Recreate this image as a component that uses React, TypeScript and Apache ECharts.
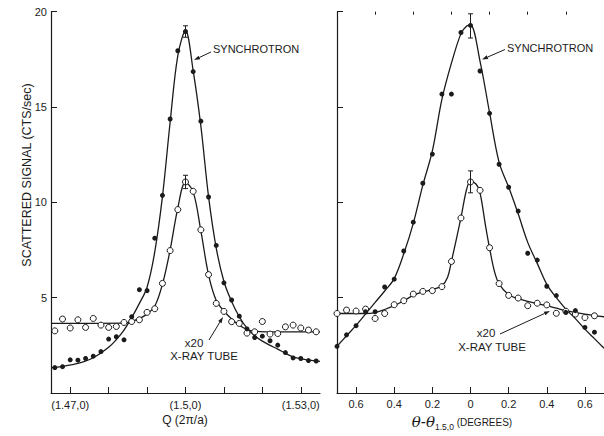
import React, { useEffect, useRef } from "react";
import * as echarts from "echarts";

// ---------- Left panel: Q scan ----------
const qPoints = [
  1.466, 1.468, 1.47, 1.472, 1.474, 1.476, 1.478, 1.48, 1.482, 1.484, 1.486, 1.488,
  1.49, 1.492, 1.494, 1.496, 1.498, 1.5, 1.502, 1.504, 1.506, 1.508, 1.51, 1.512,
  1.514, 1.516, 1.518, 1.52, 1.522, 1.524, 1.526, 1.528, 1.53, 1.532, 1.534,
];
const qSync = [
  1.33, 1.38, 1.74, 1.72, 1.81, 1.93, 2.17, 2.83, 2.95, 2.79, 4.0, 5.42,
  5.37, 8.12, 10.37, 14.37, 17.95, 18.96, 16.86, 14.26, 10.28, 7.74, 5.78, 4.88,
  4.03, 3.36, 2.91, 2.98, 2.74, 2.51, 2.12, 1.84, 1.81, 1.7, 1.68,
];
const qTube = [
  3.26, 3.88, 3.41, 3.84, 3.44, 3.91, 3.56, 3.44, 3.49, 3.7, 3.75, 3.84,
  4.23, 4.42, 5.75, 7.47, 9.62, 11.07, 10.58, 8.56, 6.21, 4.7, 4.28, 3.74,
  3.65, 3.14, 3.21, 3.75, 3.09, 3.12, 3.47, 3.56, 3.41, 3.3, 3.21,
];
const qSyncFitX = [
  1.465, 1.468, 1.472, 1.476, 1.48, 1.482, 1.484, 1.486, 1.488, 1.49, 1.492, 1.494,
  1.496, 1.498, 1.5, 1.502, 1.504, 1.506, 1.508, 1.51, 1.512, 1.514, 1.516, 1.518,
  1.52, 1.522, 1.524, 1.526, 1.528, 1.53, 1.532, 1.535,
];
const qSyncFitY = [
  1.33, 1.4, 1.55, 1.85, 2.4, 2.8, 3.3, 3.95, 4.7, 5.55, 7.4, 10.3,
  14.2, 17.7, 19.0, 16.9, 14.0, 10.3, 7.6, 5.85, 4.8, 4.0, 3.4, 3.0,
  2.72, 2.5, 2.3, 2.08, 1.9, 1.8, 1.72, 1.66,
];
const qTubeFitX = [
  1.465, 1.484, 1.486, 1.488, 1.49, 1.492, 1.494, 1.496, 1.498, 1.5, 1.502, 1.504,
  1.506, 1.508, 1.51, 1.512, 1.514, 1.516, 1.518, 1.521, 1.535,
];
const qTubeFitY = [
  3.65, 3.66, 3.76, 3.9, 4.15, 4.55, 5.7, 7.5, 9.7, 11.05, 10.55, 8.5,
  6.2, 4.85, 4.3, 3.88, 3.55, 3.33, 3.24, 3.21, 3.21,
];
const qErrorBars = [
  [1.5, 18.66, 19.26],
  [1.5, 10.72, 11.42],
];
const qTicks = [1.47, 1.48, 1.49, 1.5, 1.51, 1.52, 1.53];
const qLabels = [1.47, 1.5, 1.53];

// ---------- Right panel: theta scan ----------
const thPoints = [
  -0.7, -0.65, -0.6, -0.55, -0.5, -0.45, -0.4, -0.35, -0.3, -0.25, -0.2, -0.15, -0.1, -0.05,
  0, 0.05, 0.1, 0.15, 0.2, 0.25, 0.3, 0.35, 0.4, 0.45, 0.5, 0.55, 0.6, 0.65,
];
const thSync = [
  2.45, 3.05, 3.53, 4.26, 4.26, 5.56, 5.97, 7.45, 8.96, 11.0, 12.53, 15.68, 15.68, 18.91,
  19.28, 16.89, 14.67, 12.0, 10.79, 9.54, 7.33, 6.97, 5.6, 5.11, 4.23, 4.32, 3.44, 3.19,
];
const thTube = [
  4.17, 4.35, 4.3, 4.4, 3.91, 4.17, 4.63, 4.84, 5.19, 5.33, 5.37, 5.58, 6.9, 9.18,
  11.07, 10.63, 7.62, 5.74, 5.12, 4.98, 4.58, 4.71, 4.62, 4.18, 4.29, 4.14, 3.96, 4.05,
];
const thSyncFitX = [
  -0.7, -0.65, -0.6, -0.55, -0.5, -0.45, -0.4, -0.35, -0.3, -0.25, -0.2, -0.15, -0.1, -0.05,
  -0.02, 0, 0.05, 0.1, 0.15, 0.2, 0.25, 0.3, 0.35, 0.4, 0.45, 0.5, 0.55, 0.6, 0.65, 0.7,
];
const thSyncFitY = [
  2.45, 3.0, 3.55, 4.15, 4.75, 5.35, 6.0, 7.3, 8.9, 10.9, 12.7, 15.4, 17.3, 18.85,
  19.25, 19.3, 17.4, 14.7, 12.1, 10.8, 9.4, 7.9, 6.8, 5.7, 5.0, 4.4, 3.9, 3.35, 2.85, 2.35,
];
const thTubeFitX = [
  -0.7, -0.55, -0.5, -0.45, -0.4, -0.35, -0.3, -0.25, -0.2, -0.15, -0.12, -0.1, -0.05, -0.02,
  0, 0.03, 0.05, 0.08, 0.1, 0.125, 0.15, 0.2, 0.25, 0.3, 0.35, 0.4, 0.45, 0.5, 0.6, 0.7,
];
const thTubeFitY = [
  4.17, 4.17, 4.22, 4.38, 4.58, 4.84, 5.12, 5.3, 5.42, 5.62, 6.07, 6.9, 9.2, 10.7,
  11.1, 10.95, 10.5, 8.7, 7.6, 6.4, 5.72, 5.15, 4.95, 4.8, 4.68, 4.58, 4.45, 4.32, 4.14, 4.0,
];
const thErrorBars = [
  [0, 18.62, 19.89],
  [0, 10.5, 11.65],
];
const thMajorTicks = [-0.6, -0.4, -0.2, 0, 0.2, 0.4, 0.6];
const thMinorTicks = [-0.5, -0.3, -0.1, 0.1, 0.3, 0.5];
const yTicks = [5, 10, 15, 20];

const INK = "#1b1b1b";
const FONT = "Liberation Sans";

const zip = (xs: number[], ys: number[]) => xs.map((x, i) => [x, ys[i]]);

function errorBarItem(_params: any, api: any) {
  const x = api.value(0);
  const lo = api.coord([x, api.value(1)]);
  const hi = api.coord([x, api.value(2)]);
  const cap = 2.5;
  const st = { stroke: INK, lineWidth: 1 };
  return {
    type: "group",
    children: [
      { type: "line", shape: { x1: lo[0], y1: lo[1], x2: hi[0], y2: hi[1] }, style: st },
      { type: "line", shape: { x1: hi[0] - cap, y1: hi[1], x2: hi[0] + cap, y2: hi[1] }, style: st },
      { type: "line", shape: { x1: lo[0] - cap, y1: lo[1], x2: lo[0] + cap, y2: lo[1] }, style: st },
    ],
  };
}

function arrow(x1: number, y1: number, x2: number, y2: number) {
  const dx = x2 - x1, dy = y2 - y1;
  const len = Math.sqrt(dx * dx + dy * dy);
  const ux = dx / len, uy = dy / len;
  const px = -uy, py = ux;
  const hl = 6, hw = 2;
  const bx = x2 - ux * hl, by = y2 - uy * hl;
  return [
    { type: "line", shape: { x1, y1, x2: bx, y2: by }, style: { stroke: INK, lineWidth: 1 } },
    {
      type: "polygon",
      shape: { points: [[x2, y2], [bx + px * hw, by + py * hw], [bx - px * hw, by - py * hw]] },
      style: { fill: INK },
    },
  ];
}

const axisBase = (gridIndex: number) => ({
  gridIndex,
  type: "value" as const,
  axisLine: { show: true, onZero: false, lineStyle: { color: INK, width: 1.2 } },
  splitLine: { show: false },
});

export default function App() {
  const ref = useRef<HTMLDivElement>(null);
  useEffect(() => {
    if (!ref.current) return;
    const chart = echarts.init(ref.current, null, { renderer: "svg" });
    const lineSeries = (data: number[][], xi: number, yi: number) => ({
      type: "line",
      xAxisIndex: xi,
      yAxisIndex: yi,
      data,
      smooth: 0.35,
      showSymbol: false,
      symbol: "none",
      lineStyle: { color: INK, width: 1.3 },
      silent: true,
      z: 2,
    });
    const filled = (data: number[][], xi: number, yi: number) => ({
      type: "scatter",
      xAxisIndex: xi,
      yAxisIndex: yi,
      data,
      symbol: "circle",
      symbolSize: 5,
      itemStyle: { color: INK, opacity: 1 },
      z: 4,
    });
    const open = (data: number[][], xi: number, yi: number) => ({
      type: "scatter",
      xAxisIndex: xi,
      yAxisIndex: yi,
      data,
      symbol: "circle",
      symbolSize: 6,
      itemStyle: { color: "#ffffff", borderColor: INK, borderWidth: 1, opacity: 1 },
      z: 3,
    });
    const errSeries = (data: number[][], xi: number, yi: number) => ({
      type: "custom",
      xAxisIndex: xi,
      yAxisIndex: yi,
      data,
      renderItem: errorBarItem,
      encode: { x: 0, y: [1, 2] },
      z: 5,
    });

    const textStyle = { fill: INK, fontFamily: FONT };

    chart.setOption({
      animation: false,
      backgroundColor: "#ffffff",
      grid: [
        { left: 51, top: 11.7, width: 269, height: 381.3 },
        { left: 337, top: 11.7, width: 269, height: 381.3 },
      ],
      xAxis: [
        {
          ...axisBase(0),
          min: 1.465,
          max: 1.535,
          axisTick: { show: true, inside: true, length: 6, customValues: qTicks, lineStyle: { color: INK } },
          axisLabel: {
            customValues: qLabels,
            formatter: (v: number) => "(" + String(Number(v.toFixed(3))) + ",0)",
            color: INK,
            fontFamily: FONT,
            fontSize: 11,
            margin: 6,
          },
        },
        {
          ...axisBase(1),
          min: -0.7,
          max: 0.7,
          axisTick: { show: true, inside: true, length: 6, customValues: thMajorTicks, lineStyle: { color: INK } },
          axisLabel: {
            customValues: thMajorTicks,
            formatter: (v: number) => (Math.abs(v) < 1e-9 ? "0" : Math.abs(v).toFixed(1)),
            color: INK,
            fontFamily: FONT,
            fontSize: 11,
            margin: 5,
          },
        },
        {
          ...axisBase(1),
          min: -0.7,
          max: 0.7,
          axisLine: { show: false, onZero: false },
          axisTick: { show: true, inside: true, length: 3, customValues: thMinorTicks, lineStyle: { color: INK } },
          axisLabel: { show: false },
        },
      ],
      yAxis: [
        {
          ...axisBase(0),
          min: 0,
          max: 20,
          axisTick: { show: true, inside: true, length: 6, customValues: yTicks, lineStyle: { color: INK } },
          axisLabel: { customValues: yTicks, color: INK, fontFamily: FONT, fontSize: 11, margin: 4 },
        },
        {
          ...axisBase(1),
          min: 0,
          max: 20,
          axisTick: { show: true, inside: true, length: 6, customValues: yTicks, lineStyle: { color: INK } },
          axisLabel: { show: false },
        },
      ],
      series: [
        lineSeries(zip(qSyncFitX, qSyncFitY), 0, 0),
        lineSeries(zip(qTubeFitX, qTubeFitY), 0, 0),
        open(zip(qPoints, qTube), 0, 0),
        filled(zip(qPoints, qSync), 0, 0),
        errSeries(qErrorBars, 0, 0),
        lineSeries(zip(thSyncFitX, thSyncFitY), 1, 1),
        lineSeries(zip(thTubeFitX, thTubeFitY), 1, 1),
        open(zip(thPoints, thTube), 1, 1),
        filled(zip(thPoints, thSync), 1, 1),
        errSeries(thErrorBars, 1, 1),
      ],
      graphic: [
        {
          type: "text",
          x: 27,
          y: 175,
          rotation: Math.PI / 2,
          style: { ...textStyle, text: "SCATTERED SIGNAL (CTS/sec)", fontSize: 12.5, align: "center", verticalAlign: "middle" },
        },
        {
          type: "text",
          x: 185,
          y: 420,
          style: { ...textStyle, text: "Q (2π/a)", fontSize: 12, align: "center", verticalAlign: "middle" },
        },
        {
          type: "text",
          x: 462,
          y: 422,
          style: {
            ...textStyle,
            text: "{t|θ-θ}{s|1.5,0}{d| (DEGREES)}",
            align: "center",
            verticalAlign: "middle",
            rich: {
              t: { fontFamily: "DejaVu Serif", fontStyle: "italic", fontSize: 15, fill: INK },
              s: { fontFamily: FONT, fontSize: 8.5, fill: INK, padding: [9, 0, 0, 0] },
              d: { fontFamily: FONT, fontSize: 10, fill: INK },
            },
          },
        },
        { type: "text", x: 213, y: 49, style: { ...textStyle, text: "SYNCHROTRON", fontSize: 11, align: "left", verticalAlign: "middle" } },
        { type: "text", x: 507, y: 48, style: { ...textStyle, text: "SYNCHROTRON", fontSize: 11, align: "left", verticalAlign: "middle" } },
        { type: "text", x: 194, y: 343, style: { ...textStyle, text: "x20", fontSize: 11.5, align: "center", verticalAlign: "middle" } },
        { type: "text", x: 204, y: 356, style: { ...textStyle, text: "X-RAY TUBE", fontSize: 11.5, align: "center", verticalAlign: "middle" } },
        { type: "text", x: 486, y: 333, style: { ...textStyle, text: "x20", fontSize: 11.5, align: "center", verticalAlign: "middle" } },
        { type: "text", x: 492, y: 347, style: { ...textStyle, text: "X-RAY TUBE", fontSize: 11.5, align: "center", verticalAlign: "middle" } },
        ...arrow(211, 52, 194, 60),
        ...arrow(505, 49.5, 482, 59.5),
        ...arrow(209, 340, 223, 317),
        ...arrow(500, 334, 550, 311),
      ],
    });
    return () => chart.dispose();
  }, []);
  return (
    <div
      ref={ref}
      style={{ position: "absolute", left: 0, top: 0, width: 604, height: 436, background: "#fff" }}
    />
  );
}
